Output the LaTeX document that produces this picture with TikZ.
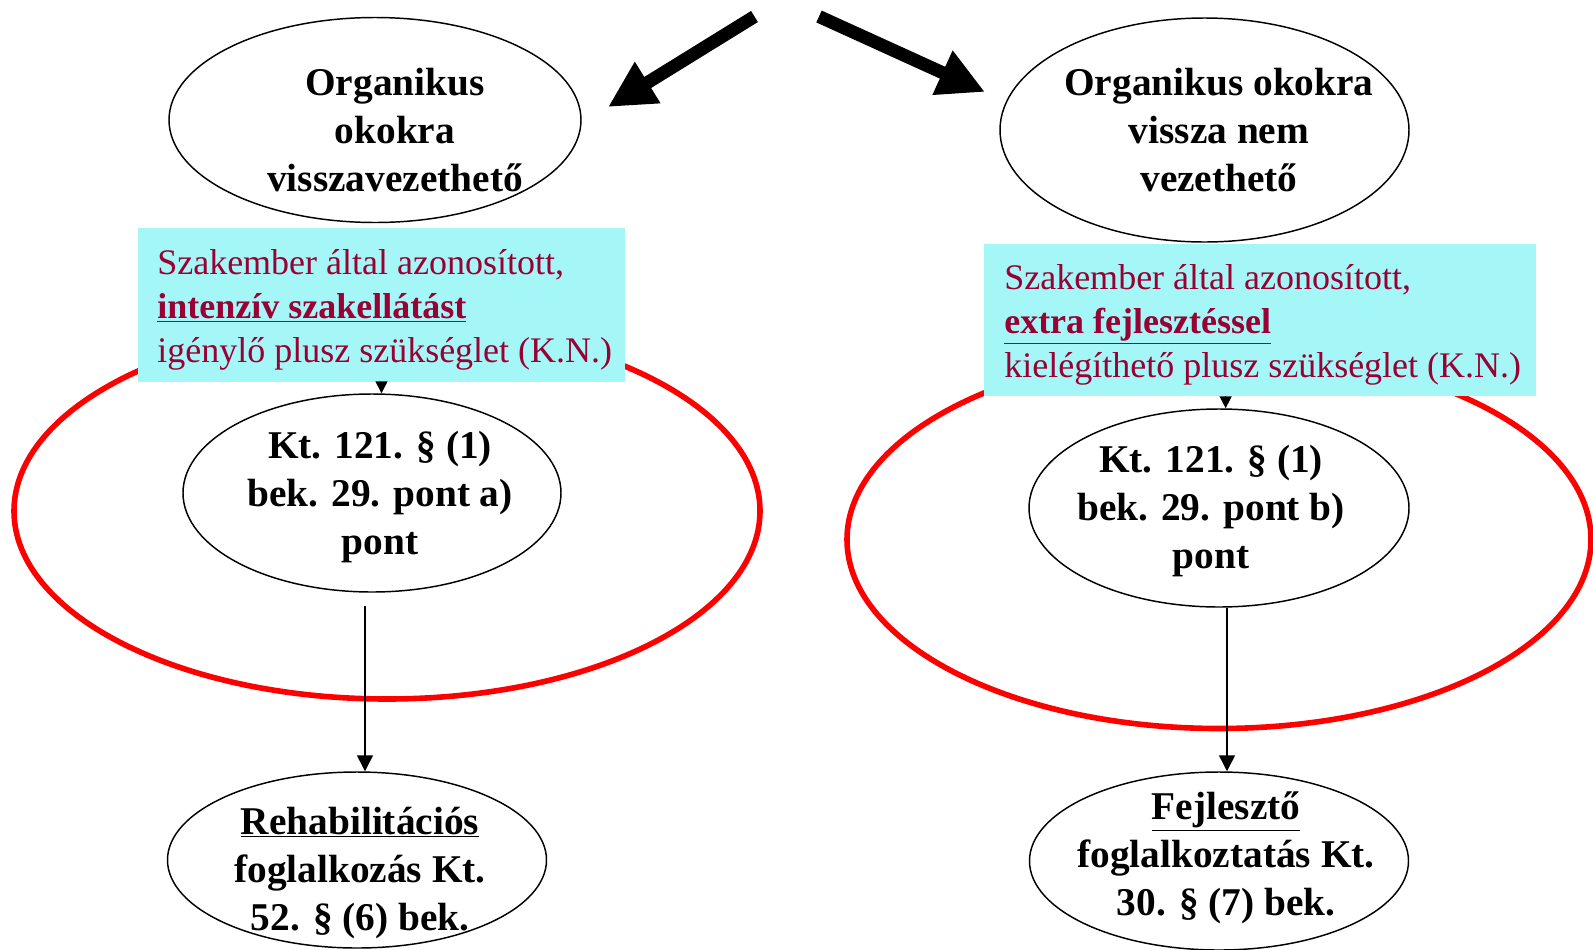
\documentclass[tikz,border=0pt]{standalone}
\usepackage{fontspec}
\setmainfont{Liberation Serif}
\usetikzlibrary{shapes.geometric,arrows.meta}
\definecolor{boxcyan}{RGB}{165,247,247}
\definecolor{kncolor}{RGB}{153,0,51}
\begin{document}
\begin{tikzpicture}[x=0.75pt,y=-0.75pt,
  oval/.style={shape=ellipse, draw=black, line width=1.1pt, fill=white, inner sep=0pt},
  redoval/.style={shape=ellipse, draw=red, line width=4.2pt, inner sep=0pt},
  knbox/.style={fill=boxcyan, inner sep=0pt},
  bigtext/.style={font=\fontsize{29.5}{36}\selectfont\bfseries, align=center, text=black, inner sep=0pt},
  kntext/.style={font=\fontsize{27}{33}\selectfont, align=left, text=kncolor, inner sep=0pt, anchor=west},
  smallarrow/.style={draw=black, line width=1.1pt, -{Triangle[length=9pt,width=9pt]}},
  midarrow/.style={draw=black, line width=1.1pt, -{Triangle[length=12pt,width=12pt]}},
  fatarrow/.style={draw=black, line width=9.75pt, -{Triangle[length=35pt,width=34pt]}}]
\useasboundingbox (0,0) rectangle (1593,950);
\fill[white] (0,0) rectangle (1593,950);

% red ellipses
\node[redoval, minimum width=559.5pt, minimum height=282pt] (r1) at (387,511) {};
\node[redoval, minimum width=558pt, minimum height=283.5pt] (r2) at (1219,539.5) {};

% top ellipses
\node[oval, minimum width=309pt, minimum height=153.75pt] (e1) at (375,120) {};
\node[oval, minimum width=306.75pt, minimum height=168pt] (e2) at (1204.5,130) {};
\node[bigtext] (t1) at (395,130) {Organikus\\okokra\\visszavezethető};
\node[bigtext] (t2) at (1219,130) {Organikus okokra\\vissza nem\\vezethető};

% cyan boxes
\node[knbox, minimum width=365.25pt, minimum height=115.5pt] (b1) at (381.5,305) {};
\node[knbox, minimum width=414pt, minimum height=114pt] (b2) at (1260,320) {};
\node[kntext] (k1) at (157,310) {Szakember által azonosított,\\\textbf{\underline{intenzív szakellátást}}\\igénylő plusz szükséglet (K.N.)};
\node[kntext] (k2) at (1004,325) {Szakember által azonosított,\\\textbf{\underline{extra fejlesztéssel}}\\kielégíthető plusz szükséglet (K.N.)};

% middle ellipses
\node[oval, minimum width=283.5pt, minimum height=148.5pt] (m1) at (372,493) {};
\node[oval, minimum width=285pt, minimum height=148.5pt] (m2) at (1219,508) {};
\node[bigtext] (mt1) at (380,497) {Kt. 121. § (1)\\bek. 29. pont a)\\pont};
\node[bigtext] (mt2) at (1211,511) {Kt. 121. § (1)\\bek. 29. pont b)\\pont};

% bottom ellipses
\node[oval, minimum width=284.25pt, minimum height=132pt] (f1) at (357,860) {};
\node[oval, minimum width=284.25pt, minimum height=133.5pt] (f2) at (1219,861) {};
\node[bigtext] (ft1) at (360,873) {\underline{Rehabilitációs}\\foglalkozás Kt.\\52. § (6) bek.};
\node[bigtext] (ft2) at (1226,858) {\underline{Fejlesztő}\\foglalkoztatás Kt.\\30. § (7) bek.};

% thin connectors
\draw[smallarrow] (b1.south) -- (b1.south |- m1.north);
\draw[smallarrow] ([xshift=5pt]m2.north |- b2.south) -- ([xshift=5pt]m2.north);
\coordinate (s1) at (365,606);
\draw[midarrow] (s1) -- (s1 |- f1.north);
\draw[midarrow] ([xshift=6pt]m2.south) -- ([xshift=6pt]m2.south |- f2.north);

% thick arrows
\coordinate (a1s) at (754.5,16.5);
\coordinate (a1e) at (608,107);
\coordinate (a2s) at (819,16.5);
\coordinate (a2e) at (985,92);
\draw[fatarrow] (a1s) -- (a1e);
\draw[fatarrow] (a2s) -- (a2e);
\end{tikzpicture}
\end{document}
